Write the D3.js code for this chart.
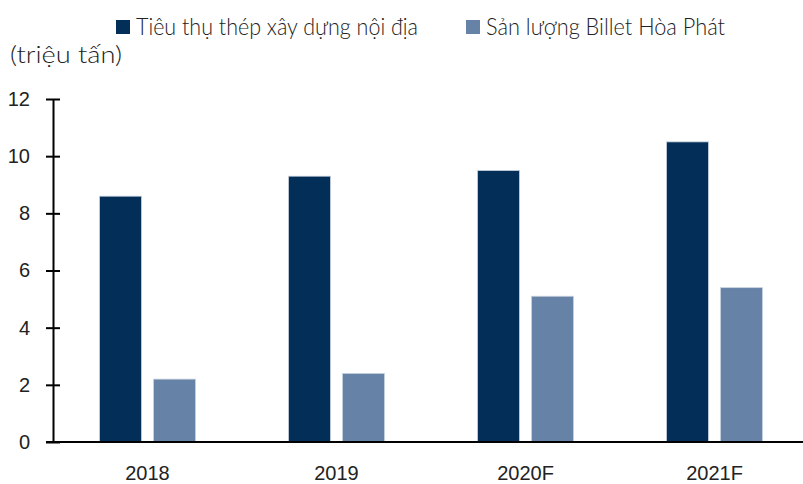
<!DOCTYPE html>
<html>
<head>
<meta charset="utf-8">
<script src="https://cdn.jsdelivr.net/npm/d3@7"></script>
<style>
  body { margin: 0; background: #fff; }
  svg { display: block; font-family: Lato, "Noto Sans", sans-serif; }
</style>
</head>
<body>
<div id="chart"></div>
<script>
const categories = ["2018", "2019", "2020F", "2021F"];
const seriesNames = ["Tiêu thụ thép xây dựng nội địa", "Sản lượng Billet Hòa Phát"];
const domesticConsumption = [8.6, 9.3, 9.5, 10.5];
const billetOutput = [2.2, 2.4, 5.1, 5.4];
const yTicks = [0, 2, 4, 6, 8, 10, 12];
const colors = ["#022e58", "#6682a6"];

const width = 803, height = 484;
const margin = { top: 99, left: 53, bottom: 42 };

const svg = d3.select("#chart").append("svg")
  .attr("width", width)
  .attr("height", height);

// scales
const x0 = d3.scaleBand()
  .domain(categories)
  .range([margin.left, margin.left + 4 * 189]);

const y = d3.scaleLinear()
  .domain([0, 12])
  .range([height - margin.bottom, margin.top]);

const x1 = d3.scaleBand()
  .domain([0, 1])
  .range([x0.bandwidth() / 2 - 48, x0.bandwidth() / 2 + 48])
  .paddingInner(0.222);

const rows = categories.map((c, i) => ({
  cat: c,
  values: [domesticConsumption[i], billetOutput[i]]
}));

// bars
svg.append("g")
  .selectAll("g")
  .data(rows)
  .join("g")
  .attr("transform", (d) => `translate(${x0(d.cat)},0)`)
  .selectAll("rect")
  .data((d) => d.values.map((v, k) => ({ v, k })))
  .join("rect")
  .attr("x", (d) => x1(d.k))
  .attr("width", x1.bandwidth())
  .attr("y", (d) => y(d.v))
  .attr("height", (d) => y(0) - y(d.v))
  .attr("fill", (d) => colors[d.k])
  .attr("stroke", "#c9d3df")
  .attr("stroke-width", 0.8);

// y axis
const yAxis = svg.append("g")
  .attr("transform", `translate(${margin.left},0)`)
  .call(d3.axisLeft(y).tickValues(yTicks).tickSize(0).tickPadding(23));
yAxis.select(".domain").attr("stroke", "#000").attr("stroke-width", 2);
yAxis.selectAll(".tick line")
  .attr("x1", -7).attr("x2", 7)
  .attr("stroke", "#000").attr("stroke-width", 2);
yAxis.selectAll(".tick text")
  .attr("font-size", 20).attr("font-weight", 300).attr("fill", "#222");

// x axis
const xAxis = svg.append("g")
  .attr("transform", `translate(0,${y(0)})`)
  .call(d3.axisBottom(x0).tickSize(0));
xAxis.select(".domain").remove();
xAxis.append("line")
  .attr("x1", margin.left - 7).attr("x2", width)
  .attr("stroke", "#000").attr("stroke-width", 2);
xAxis.selectAll(".tick text")
  .attr("y", 38).attr("dy", 0)
  .attr("font-size", 20).attr("font-weight", 300).attr("fill", "#222");

// unit label
svg.append("text")
  .attr("x", 10).attr("y", 63)
  .attr("font-size", 23).attr("font-weight", 300).attr("fill", "#222")
  .attr("textLength", 112).attr("lengthAdjust", "spacingAndGlyphs")
  .text("(triệu tấn)");

// legend
const legendX = [116, 466];
const legendW = [282, 239];
const legend = svg.append("g")
  .selectAll("g")
  .data(seriesNames)
  .join("g")
  .attr("transform", (d, i) => `translate(${legendX[i]},20)`);
legend.append("rect")
  .attr("width", 14).attr("height", 14)
  .attr("fill", (d, i) => colors[i]);
legend.append("text")
  .attr("x", 20).attr("y", 15)
  .attr("font-size", 24).attr("font-weight", 300).attr("fill", "#222")
  .attr("textLength", (d, i) => legendW[i])
  .attr("lengthAdjust", "spacingAndGlyphs")
  .text((d) => d);
</script>
</body>
</html>
